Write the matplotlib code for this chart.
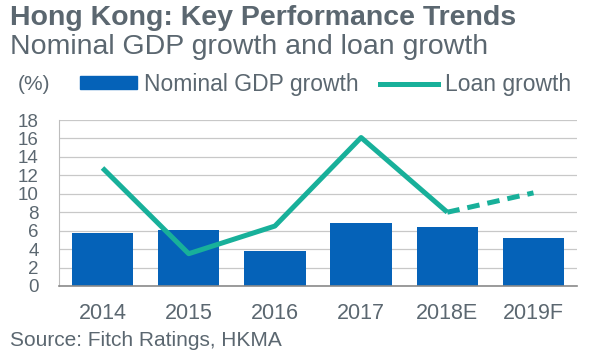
import matplotlib
matplotlib.use("Agg")
import matplotlib.pyplot as plt
from matplotlib.lines import Line2D
from matplotlib.patches import Patch
import numpy as np

plt.rcParams['font.family'] = ['Liberation Sans', 'DejaVu Sans']

categories = ['2014', '2015', '2016', '2017', '2018E', '2019F']
gdp_growth = [5.7, 6.1, 3.8, 6.8, 6.4, 5.2]
loan_growth = [12.8, 3.5, 6.5, 16.1, 8.0, 10.1]

bar_color = '#0562B8'
line_color = '#18B09A'
text_color = '#5B6770'

fig = plt.figure(figsize=(6, 3.6), dpi=100)
ax = fig.add_axes([0.099, 0.2056, 0.862, 0.461])
x = np.arange(len(categories))
ax.bar(x, gdp_growth, width=0.71, color=bar_color, zorder=2)
ax.plot(x[:5], loan_growth[:5], color=line_color, lw=3.6, zorder=3, solid_capstyle='butt')
ax.plot(x[4:], loan_growth[4:], color=line_color, lw=3.6, zorder=3, ls=(0, (2.5, 1.6)))
ax.set_xlim(-0.5, len(categories) - 0.5)
ax.set_ylim(0, 18)
ax.set_yticks(range(0, 19, 2))
ax.set_xticks(x)
ax.set_xticklabels(categories)
ax.yaxis.grid(True, color='#C8C8C8', lw=0.9, zorder=0)
ax.set_axisbelow(True)
for s in ['top', 'right']:
    ax.spines[s].set_visible(False)
ax.spines['left'].set_color('#BDBDBD')
ax.spines['bottom'].set_color('#8A8A8A')
ax.spines['bottom'].set_linewidth(1.2)
ax.tick_params(axis='y', length=0, labelsize=13.5, colors=text_color, pad=15)
ax.tick_params(axis='x', length=0, labelsize=15.5, colors=text_color, pad=12)

fig.text(0.017, 0.985, 'Hong Kong: Key Performance Trends', fontsize=20.5, fontweight='bold',
         color=text_color, va='top', ha='left')
fig.text(0.017, 0.905, 'Nominal GDP growth and loan growth', fontsize=20.5,
         color=text_color, va='top', ha='left')
fig.text(0.03, 0.765, '(%)', fontsize=15, color=text_color, va='center', ha='left')

handles = [Patch(color=bar_color, label='Nominal GDP growth'),
           Line2D([0], [0], color=line_color, lw=3.6, label='Loan growth')]
leg = fig.legend(handles=handles, loc='center left', bbox_to_anchor=(0.133, 0.765), ncol=2,
                 frameon=False, fontsize=16.5, handlelength=2.5, handleheight=0.5,
                 columnspacing=0.95, handletextpad=0.3, borderaxespad=0, borderpad=0)
for t in leg.get_texts():
    t.set_color(text_color)

fig.text(0.017, 0.055, 'Source: Fitch Ratings, HKMA', fontsize=15, color=text_color,
         va='center', ha='left')

fig.savefig('out.png', dpi=100)
